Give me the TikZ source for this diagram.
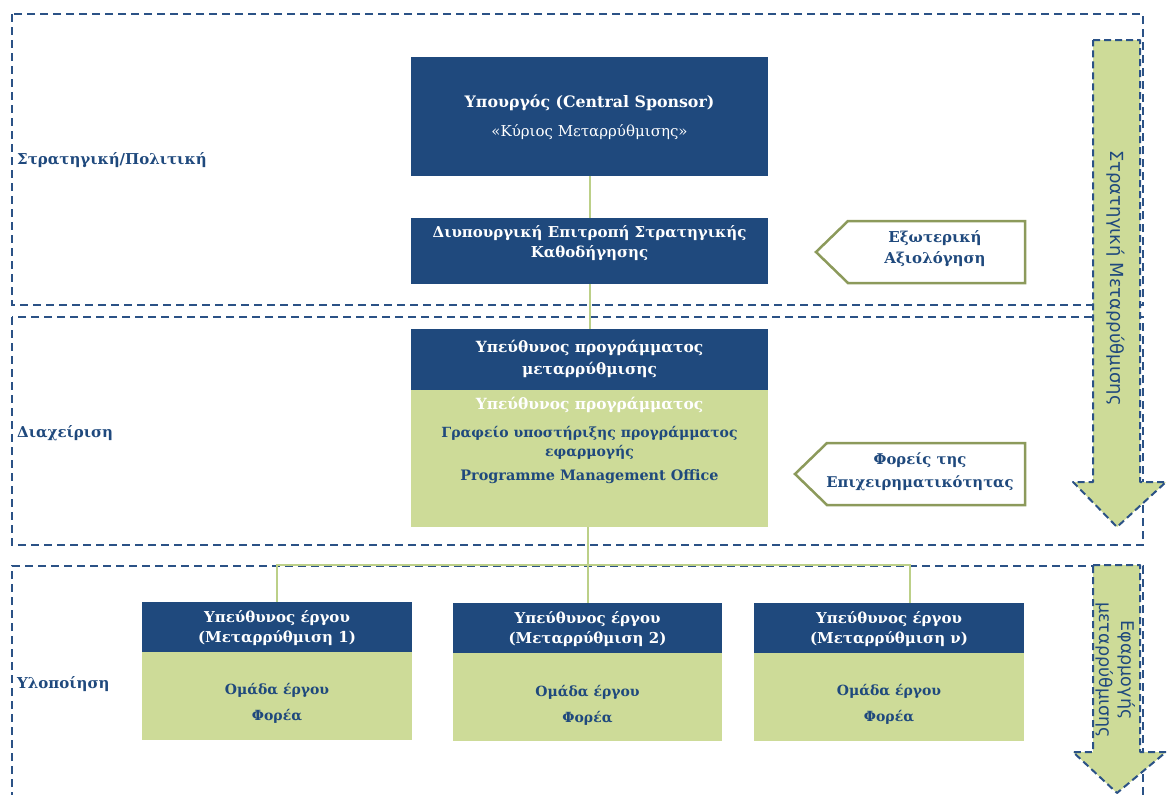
\documentclass[tikz,border=0pt]{standalone}
\usepackage{fontspec}
\setmainfont{DejaVu Serif}
\newfontfamily\arrowfont{DejaVu Sans}
\definecolor{navy}{HTML}{1F497D}
\definecolor{lgreen}{HTML}{CDDB98}
\definecolor{cgreen}{HTML}{BCD088}
\definecolor{olive}{HTML}{8C9A5B}
\definecolor{dashblue}{HTML}{2B5286}
\tikzset{
  section/.style={draw=dashblue, line width=2pt, dash pattern=on 8pt off 5pt},
  bigarrow/.style={fill=lgreen, draw=dashblue, line width=2pt, dash pattern=on 7pt off 4pt, line join=round},
  pent/.style={fill=white, draw=olive, line width=2.5pt, line join=miter},
  navybox/.style={fill=navy, inner sep=0pt, anchor=north west},
  greenbox/.style={fill=lgreen, inner sep=0pt, anchor=north west},
  conn/.style={draw=cgreen, line width=1.6pt},
  wtxt/.style={text=white, font=\bfseries\fontsize{15}{20.5}\selectfont, align=center, inner sep=0pt},
  btxt/.style={text=navy, font=\bfseries\fontsize{15}{21}\selectfont, align=center, inner sep=0pt},
  lab/.style={text=navy, font=\bfseries\fontsize{15}{20}\selectfont, anchor=west, inner sep=0pt},
  vtxt/.style={text=navy, font=\arrowfont\fontsize{18}{22}\selectfont, rotate=-90, align=center, inner sep=0pt}
}
\begin{document}
\begin{tikzpicture}[x=1pt,y=-1pt]
\useasboundingbox (0,0) rectangle (1171,795);
% sections
\draw[section] (12,14) rectangle (1143,305);
\draw[section] (12,317) rectangle (1143,545);
\draw[section] (12,800) -- (12,566) -- (1143,566) -- (1143,800);
% section labels
\node[lab] (l1) at (17,160) {Στρατηγική/Πολιτική};
\node[lab] (l2) at (17,433) {Διαχείριση};
\node[lab] (l3) at (17,684) {Υλοποίηση};
% big arrows
\draw[bigarrow] (1093,40) -- (1140,40) -- (1140,482) -- (1166,482) -- (1117,527) -- (1073,482) -- (1093,482) -- cycle;
\node[vtxt] (a1t) at (1116,278) {Στρατηγική Μεταρρύθμισης};
\draw[bigarrow] (1093,565) -- (1140,565) -- (1140,752) -- (1166,752) -- (1117,793) -- (1073,752) -- (1093,752) -- cycle;
\node[vtxt, font=\arrowfont\fontsize{17.5}{22}\selectfont] (a2t) at (1116,670) {Εφαρμογής\\μεταρρύθμισης};
% top boxes
\node[navybox, minimum width=357pt, minimum height=119pt] (sp) at (411,57) {};
\node[wtxt, font=\bfseries\fontsize{15.8}{20}\selectfont] (spt1) at (589.5,103) {Υπουργός (Central Sponsor)};
\node[wtxt, font=\fontsize{15}{20}\selectfont] (spt2) at (589.5,132) {«Κύριος Μεταρρύθμισης»};
\node[navybox, minimum width=357pt, minimum height=66pt] (dc) at (411,218) {};
\node[wtxt] (dct) at (589.5,243) {Διυπουργική Επιτροπή Στρατηγικής\\Καθοδήγησης};
\node[navybox, minimum width=357pt, minimum height=61pt] (pm) at (411,329) {};
\node[wtxt, font=\bfseries\fontsize{15.4}{22}\selectfont] (pmt) at (589.5,359) {Υπεύθυνος προγράμματος\\μεταρρύθμισης};
\node[greenbox, minimum width=357pt, minimum height=137pt] (pmg) at (411,390) {};
\node[wtxt, font=\bfseries\fontsize{15.4}{20}\selectfont] (pmg1) at (589.5,405) {Υπεύθυνος προγράμματος};
\node[btxt, font=\bfseries\fontsize{14}{19}\selectfont] (pmg2) at (589.5,442.5) {Γραφείο υποστήριξης προγράμματος\\εφαρμογής};
\node[btxt, font=\bfseries\fontsize{14.4}{19}\selectfont] (pmg3) at (589.5,477) {Programme Management Office};
% pentagons
\draw[pent] (816,252) -- (848,221) -- (1025,221) -- (1025,283) -- (848,283) -- cycle;
\node[btxt] (p1t) at (935,248.5) {Εξωτερική\\Αξιολόγηση};
\draw[pent] (795,474) -- (827,443) -- (1025,443) -- (1025,505) -- (827,505) -- cycle;
\node[btxt, font=\bfseries\fontsize{14.8}{23}\selectfont] (p2t) at (920,471.5) {Φορείς της\\Επιχειρηματικότητας};
% bottom boxes
\node[navybox, minimum width=270pt, minimum height=50pt] (b1) at (142,602) {};
\node[greenbox, minimum width=270pt, minimum height=88pt] (b1g) at (142,652) {};
\node[wtxt] (b1t) at (277,628) {Υπεύθυνος έργου\\(Μεταρρύθμιση 1)};
\node[btxt, font=\bfseries\fontsize{14}{26}\selectfont] (b1u) at (277,703) {Ομάδα έργου\\Φορέα};
\node[navybox, minimum width=269pt, minimum height=50pt] (b2) at (453,603) {};
\node[greenbox, minimum width=269pt, minimum height=88pt] (b2g) at (453,653) {};
\node[wtxt] (b2t) at (587.5,629) {Υπεύθυνος έργου\\(Μεταρρύθμιση 2)};
\node[btxt, font=\bfseries\fontsize{14}{26}\selectfont] (b2u) at (587.5,705.5) {Ομάδα έργου\\Φορέα};
\node[navybox, minimum width=270pt, minimum height=50pt] (b3) at (754,603) {};
\node[greenbox, minimum width=270pt, minimum height=88pt] (b3g) at (754,653) {};
\node[wtxt] (b3t) at (889,629) {Υπεύθυνος έργου\\(Μεταρρύθμιση ν)};
\node[btxt, font=\bfseries\fontsize{14}{26}\selectfont] (b3u) at (889,704) {Ομάδα έργου\\Φορέα};
% connectors
\coordinate (hub) at (588,565);
\coordinate (hr) at (910,565);
\draw[conn] (sp.south) -- (dc.north);
\draw[conn] (dc.south) -- (pm.north);
\draw[conn] (pmg.south -| hub) -- (hub) -- (b2.north -| hub);
\draw[conn] (b1.north) -- (b1.north |- hub) -- (hr) -- (hr |- b3.north);
\end{tikzpicture}
\end{document}
